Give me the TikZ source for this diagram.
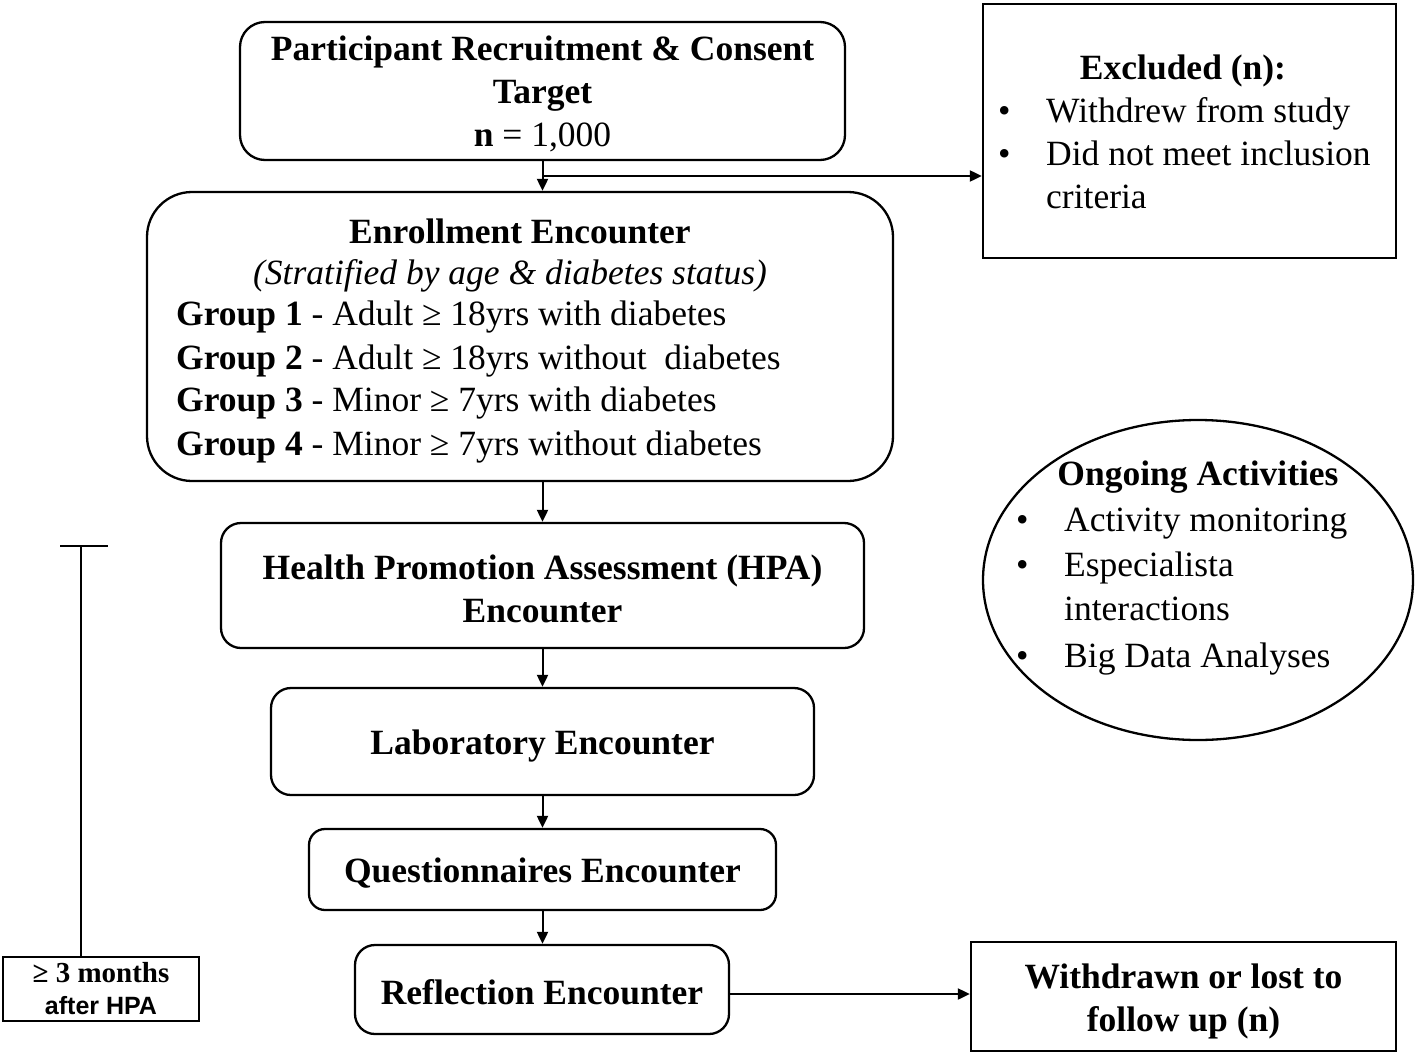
\documentclass[tikz,border=0pt]{standalone}
\usepackage{fontspec}
\setmainfont{Liberation Serif}
\newfontfamily\sansf{Liberation Sans}
\usetikzlibrary{shapes.geometric,arrows.meta}
\begin{document}
\begin{tikzpicture}[x=1pt,y=-1pt,
  every node/.style={font=\fontsize{35.5}{43}\selectfont},
  box/.style={draw, line width=2.3pt, inner sep=0pt, align=center},
  boxtext/.style={inner sep=0pt, align=center},
  arr/.style={line width=2pt, -{Triangle[length=12pt,width=11pt]}},
  lt/.style={inner sep=0pt, anchor=base west},
  ct/.style={inner sep=0pt, anchor=base},
  plain/.style={line width=2.2pt}]
\useasboundingbox (0,0) rectangle (1418,1054);
% boxes
\node[box, rounded corners=25pt, minimum width=605pt, minimum height=138pt] (part) at (542.5,91) {};
\node[box, minimum width=413pt, minimum height=254pt] (excl) at (1189.5,131) {};
\node[box, rounded corners=45pt, minimum width=746pt, minimum height=289pt] (enr) at (520,336.5) {};
\node[box, rounded corners=20pt, minimum width=643pt, minimum height=125pt] (hpa) at (542.5,585.5) {};
\node[box, rounded corners=20pt, minimum width=543pt, minimum height=107pt] (lab) at (542.5,741.5) {};
\node[box, rounded corners=16pt, minimum width=467pt, minimum height=81pt] (quest) at (542.5,869.5) {};
\node[box, rounded corners=20pt, minimum width=374pt, minimum height=89pt] (refl) at (542,989.5) {};
\node[box, minimum width=425pt, minimum height=109pt] (wd) at (1183.5,996.5) {};
\node[box, ellipse, minimum width=430pt, minimum height=320pt] (ong) at (1198,580) {};
\node[box, minimum width=196pt, minimum height=64pt] (mon) at (101,989) {};
% box texts
\node[boxtext] (partt) at ([yshift=-3pt]part.center)
  {\textbf{Participant Recruitment \& Consent}\\\textbf{Target}\\\textbf{n} = 1,000};
\node[boxtext] (hpat) at ([yshift=-3pt]hpa.center)
  {\textbf{Health Promotion Assessment (HPA)}\\\textbf{Encounter}};
\node[boxtext] (labt) at ([yshift=-5pt]lab.center) {\textbf{Laboratory Encounter}};
\node[boxtext] (questt) at ([yshift=-4pt]quest.center) {\textbf{Questionnaires Encounter}};
\node[boxtext] (reflt) at ([yshift=-3pt]refl.center) {\textbf{Reflection Encounter}};
\node[boxtext] (wdt) at ([yshift=-5pt]wd.center) {\textbf{Withdrawn or lost to}\\\textbf{follow up (n)}};
% excluded text
\node[ct] (exclt) at (1183,80) {\textbf{Excluded (n):}};
\node[lt] (eb1) at (998,123) {\textbullet};
\node[lt] (ex1) at (1046,123) {Withdrew from study};
\node[lt] (eb2) at (998,165) {\textbullet};
\node[lt] (ex2) at (1046,165) {Did not meet inclusion};
\node[lt] (ex3) at (1046,208) {criteria};
% enrollment text
\node[ct] (enrt) at (520,243) {\textbf{Enrollment Encounter}};
\node[ct] (enri) at (510,284) {\textit{(Stratified by age \& diabetes status)}};
\node[lt] (g1) at (176,325) {\textbf{Group 1} - Adult ≥ 18yrs with diabetes};
\node[lt] (g2) at (176,369) {\textbf{Group 2} - Adult ≥ 18yrs without\ \ diabetes};
\node[lt] (g3) at (176,411) {\textbf{Group 3} - Minor ≥ 7yrs with diabetes};
\node[lt] (g4) at (176,455) {\textbf{Group 4} - Minor ≥ 7yrs without diabetes};
% ongoing text
\node[ct] (ongt) at (1198,485) {\textbf{Ongoing Activities}};
\node[lt] (ob1) at (1016,531) {\textbullet};
\node[lt] (o1) at (1064,531) {Activity monitoring};
\node[lt] (ob2) at (1016,576) {\textbullet};
\node[lt] (o2) at (1064,576) {Especialista};
\node[lt] (o3) at (1064,620) {interactions};
\node[lt] (ob3) at (1016,667) {\textbullet};
\node[lt] (o4) at (1064,667) {Big Data Analyses};
% months text
\node[ct, font=\fontsize{29}{32}\selectfont] (mt1) at (101,982) {\textbf{≥ 3 months}};
\node[ct, font=\fontsize{25}{30}\selectfont\sansf\bfseries] (mt2) at (101,1014) {after HPA};
% connectors
\coordinate (br) at (542,176);
\draw[arr] (part.south) -- (part.south |- enr.north);
\draw[arr] (br) -- (br -| excl.west);
\draw[arr] (hpa.north |- enr.south) -- (hpa.north);
\draw[arr] (hpa.south) -- (lab.north);
\draw[arr] (lab.south) -- (quest.north);
\draw[arr] (quest.south) -- (quest.south |- refl.north);
\coordinate (rw) at (729,994);
\draw[arr] (rw) -- (rw -| wd.west);
% time bar
\coordinate (bt) at (81,546);
\coordinate (bl) at (60,546);
\coordinate (brr) at (108,546);
\draw[plain] (mon.north -| bt) -- (bt);
\draw[plain] (bl) -- (brr);
\end{tikzpicture}
\end{document}
